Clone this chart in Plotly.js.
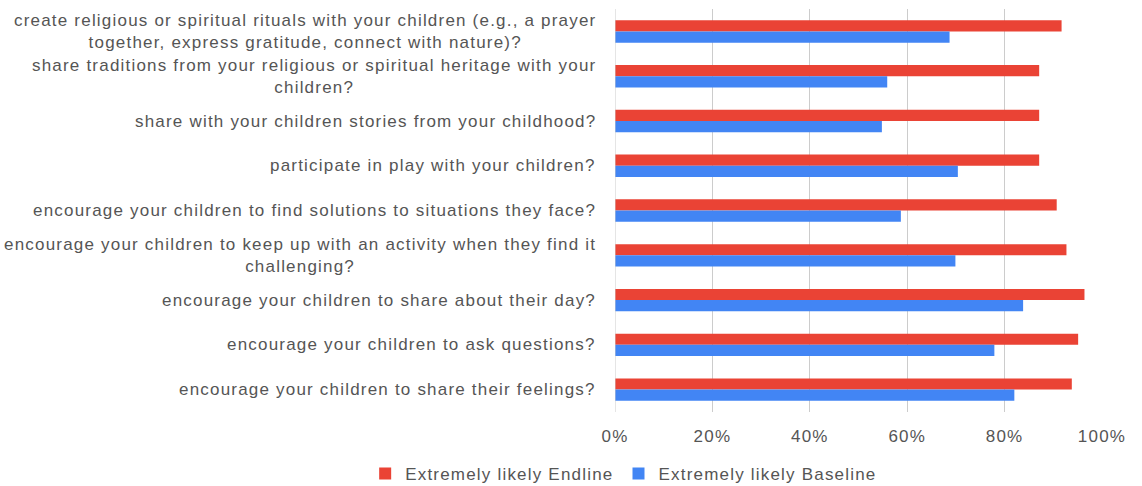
<!DOCTYPE html>
<html>
<head>
<meta charset="utf-8">
<script src="https://cdn.plot.ly/plotly-3.0.1.min.js"></script>
<style>
html,body{margin:0;padding:0;background:#fff}
#chart{width:1142px;height:486px}
text{letter-spacing:1.2px}
</style>
</head>
<body>
<div id="chart"></div>
<script>
const categories = [
  "create religious or spiritual rituals with your children (e.g., a prayer<br>together, express gratitude, connect with nature)?",
  "share traditions from your religious or spiritual heritage with your<br>children?",
  "share with your children stories from your childhood?",
  "participate in play with your children?",
  "encourage your children to find solutions to situations they face?",
  "encourage your children to keep up with an activity when they find it<br>challenging?",
  "encourage your children to share about their day?",
  "encourage your children to ask questions?",
  "encourage your children to share their feelings?"
];
const endline = [91.7, 87.1, 87.1, 87.1, 90.7, 92.7, 96.4, 95.1, 93.8];
const baseline = [68.7, 55.9, 54.8, 70.4, 58.7, 69.9, 83.8, 77.9, 82.0];
const seriesNames = ["Extremely likely Endline", "Extremely likely Baseline"];
const tickVals = [0, 20, 40, 60, 80, 100];
const tickText = ["0%", "20%", "40%", "60%", "80%", "100%"];

const FONT = "Liberation Sans, Arial, sans-serif";
const TXT = "#555555";

const traces = [
  {type: "bar", orientation: "h", name: seriesNames[0], y: categories, x: endline,
   marker: {color: "#EA4335"}, hoverinfo: "x+y"},
  {type: "bar", orientation: "h", name: seriesNames[1], y: categories, x: baseline,
   marker: {color: "#4285F4"}, hoverinfo: "x+y"}
];

const annotations = categories.map(c => ({
  text: c, x: -0.035, xref: "paper", y: c, yref: "y",
  xanchor: "right", yanchor: "middle", align: "center", showarrow: false,
  font: {family: FONT, size: 17, color: TXT}
}));

const layout = {
  width: 1142, height: 486,
  margin: {l: 615, r: 40, t: 9, b: 74},
  paper_bgcolor: "#ffffff", plot_bgcolor: "#ffffff",
  barmode: "group", bargap: 0.5, bargroupgap: 0,
  font: {family: FONT, size: 17, color: TXT},
  xaxis: {range: [0, 100], tickvals: tickVals, ticktext: tickText,
          showgrid: true, gridcolor: "#cccccc", gridwidth: 1, zeroline: false,
          showline: false, ticks: "", ticklabelstandoff: 12,
          tickfont: {family: FONT, size: 17, color: TXT}, fixedrange: true},
  yaxis: {type: "category", autorange: "reversed", showticklabels: false,
          showgrid: false, zeroline: false, showline: false, ticks: "", fixedrange: true},
  shapes: [{type: "line", xref: "x", yref: "paper", x0: 0, x1: 0, y0: 0, y1: 1,
            line: {color: "#cccccc", width: 1}}],
  annotations: annotations,
  showlegend: true,
  legend: {orientation: "h", x: -0.513, xanchor: "left", xref: "paper",
           y: 0.025, yref: "container", yanchor: "middle",
           font: {family: FONT, size: 17, color: TXT}, itemwidth: 30,
           traceorder: "normal"}
};

Plotly.newPlot("chart", traces, layout, {displayModeBar: false, staticPlot: true});
</script>
</body>
</html>
